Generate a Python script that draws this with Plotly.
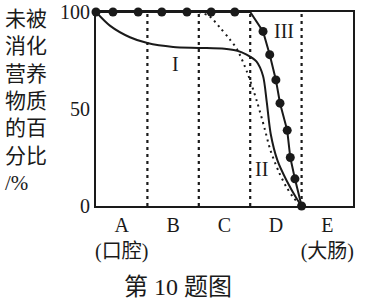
import plotly.graph_objects as go

# Segments of the digestive tract
seg_labels = ["A<br>(口腔)", "B", "C", "D", "E<br>(大肠)"]
seg_pos = [0.5, 1.5, 2.5, 3.5, 4.5]
boundaries = [1, 2, 3, 4]

# Curve I (solid)
x1 = [0, 0.27, 0.66, 1.0, 1.5, 2.0, 2.5, 2.75, 2.93, 3.12, 3.25, 3.32, 3.4, 3.53, 3.71, 3.9, 4.0]
y1 = [100, 93, 87, 84, 82, 81.5, 81, 80, 78, 74.5, 67, 54, 37, 23.5, 13, 4, 0]

# Curve II (dotted)
x2 = [2.0, 2.2, 2.41, 2.6, 2.74, 2.94, 3.13, 3.28, 3.39, 3.55, 3.7, 3.85, 4.0]
y2 = [100, 98, 92, 86, 81, 69, 54, 40, 29, 18, 10, 4, 0]

# Curve III (solid with markers)
x3_line = [0, 3.0, 3.25, 3.38, 3.5, 3.58, 3.72, 3.78, 3.87, 4.0]
y3_line = [100, 100, 90, 78, 65, 53, 39, 25, 14, 0]
x3_pts = [0, 0.33, 0.82, 1.28, 1.77, 2.24, 2.70, 3.25, 3.38, 3.5, 3.58, 3.72, 3.78, 3.87, 4.0]
y3_pts = [100, 100, 100, 100, 100, 100, 100, 90, 78, 65, 53, 39, 25, 14, 0]

y_ticks = [0, 50, 100]
ink = "#1a1a1a"
serif = "Liberation Serif, Noto Sans CJK SC"

fig = go.Figure()
for b in boundaries:
    fig.add_trace(go.Scatter(x=[b, b], y=[0, 100], mode="lines",
                             line=dict(color=ink, width=2.2, dash="3px,4px"),
                             showlegend=False, hoverinfo="skip"))
fig.add_trace(go.Scatter(x=x1, y=y1, mode="lines", line=dict(color=ink, width=2, shape="spline", smoothing=0.8),
                         showlegend=False))
fig.add_trace(go.Scatter(x=x2, y=y2, mode="lines", line=dict(color=ink, width=2, dash="2px,4px", shape="spline", smoothing=0.8),
                         showlegend=False))
fig.add_trace(go.Scatter(x=x3_line, y=y3_line, mode="lines", line=dict(color=ink, width=2),
                         showlegend=False))
fig.add_trace(go.Scatter(x=x3_pts, y=y3_pts, mode="markers", marker=dict(color=ink, size=9),
                         showlegend=False, cliponaxis=False))

# Curve labels
fig.add_annotation(x=1.54, y=73, text="I", showarrow=False, font=dict(family=serif, size=20, color=ink))
fig.add_annotation(x=3.22, y=19, text="II", showarrow=False, font=dict(family=serif, size=20, color=ink))
fig.add_annotation(x=3.66, y=90, text="III", showarrow=False, font=dict(family=serif, size=20, color=ink))

# Y axis title (stacked)
fig.add_annotation(xref="paper", yref="paper", x=-0.36, y=1.035, xanchor="left", yanchor="top",
                   text="未被<br>消化<br>营养<br>物质<br>的百<br>分比<br>/%", align="left", showarrow=False,
                   font=dict(family=serif, size=21, color=ink))
# Figure caption
fig.add_annotation(xref="paper", yref="paper", x=0.32, y=-0.415, xanchor="center", yanchor="middle",
                   text="第 10 题图", showarrow=False, font=dict(family=serif, size=24, color=ink))

fig.update_xaxes(range=[0, 5], tickvals=seg_pos, ticktext=seg_labels, showgrid=False, zeroline=False,
                 showline=True, mirror=True, linecolor=ink, linewidth=2, ticks="", automargin=False,
                 ticklabeloverflow="allow", tickfont=dict(family=serif, size=20, color=ink))
fig.update_yaxes(range=[0, 100], tickvals=y_ticks, ticktext=[str(v) for v in y_ticks], showgrid=False,
                 zeroline=False, showline=True, mirror=True, linecolor=ink, linewidth=2, ticks="",
                 automargin=False, ticklabeloverflow="allow", tickfont=dict(family=serif, size=20, color=ink))
fig.update_layout(width=365, height=301, margin=dict(l=96, r=12, t=12, b=95, autoexpand=False),
                  plot_bgcolor="white", paper_bgcolor="white")
fig.write_html("out.html")
